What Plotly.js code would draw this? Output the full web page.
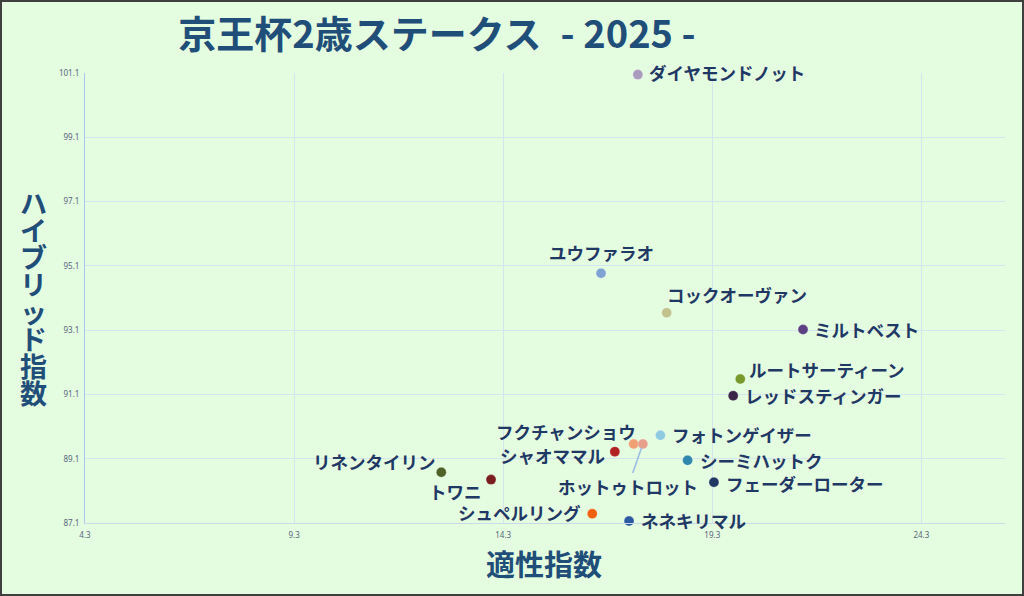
<!DOCTYPE html>
<html><head><meta charset="utf-8">
<script src="https://cdn.plot.ly/plotly-3.0.1.min.js"></script>
<style>
html,body{margin:0;padding:0;background:#e4fce0;}
#wrap{position:relative;width:1024px;height:596px;overflow:hidden;}
#chart{position:absolute;left:0;top:0;width:1024px;height:596px;}
#frame{position:absolute;left:0;top:0;width:1024px;height:596px;box-sizing:border-box;border:2px solid #3f3f3f;pointer-events:none;}
</style></head>
<body><div id="wrap"><div id="chart"></div><div id="frame"></div></div>
<script>
// ---- data ----
const horses = ["ダイヤモンドノット","ユウファラオ","コックオーヴァン","ミルトベスト","ルートサーティーン","レッドスティンガー","フォトンゲイザー","フクチャンショウ","ホットゥトロット","シャオママル","シーミハットク","フェーダーローター","リネンタイリン","トワニ","シュペルリング","ネネキリマル"];
const aptitude = [17.52,16.64,18.21,21.47,19.97,19.80,18.06,17.42,17.64,16.97,18.71,19.34,12.82,14.01,16.43,17.31];
const hybrid   = [101.05,94.87,93.64,93.12,91.58,91.06,89.83,89.56,89.56,89.32,89.05,88.37,88.68,88.45,87.39,87.16];
const xTicks = [4.3,9.3,14.3,19.3,24.3];
const yTicks = [87.1,89.1,91.1,93.1,95.1,97.1,99.1,101.1];
const chartTitle = "京王杯2歳ステークス\u2002- 2025 -";
const xTitle = "適性指数";
const yTitle = "ハイブリッド指数";

// ---- styles ----
const colors = ["#a99bbd","#7ea3d3","#c2c28c","#5b4184","#789a2c","#3b2548","#8ecbe0","#efa173","#e7a08c","#b12121","#2f87ae","#1f3864","#4f6228","#7a1d1d","#f0620f","#2b5aa0"];
// label placement: [xanchor, xshift, yshift] ; null => arrow label
const labelPlace = [
 ["left",9,2],["center",0,21],["left",-2,18],["left",9,0],["left",7,10],["left",10,0],
 ["left",10,1],["right",4,12],null,["right",-8,-4],["left",10,0],["left",10,-1],
 ["right",-3,11],["right",-7,-12],["right",-9,1],["left",10,1]
];
const labelFont = {family:"'Noto Sans CJK JP', sans-serif", size:17.5, color:"#1f3864", weight:"bold"};
const navy = "#1f4e79";

const trace = {
  type:"scatter", mode:"markers", x:aptitude, y:hybrid, text:horses,
  hoverinfo:"text", cliponaxis:false,
  marker:{size:10, color:colors, line:{width:0.8, color:"rgba(255,255,255,0.35)"}}
};

const annotations = [];
horses.forEach((h,i)=>{
  const p = labelPlace[i];
  if(p){
    annotations.push({xref:"x",yref:"y",x:aptitude[i],y:hybrid[i],text:h,showarrow:false,
      xanchor:p[0],yanchor:"middle",xshift:p[1],yshift:p[2],font:labelFont});
  } else {
    annotations.push({xref:"x",yref:"y",x:aptitude[i],y:hybrid[i],text:h,showarrow:true,
      axref:"pixel",ayref:"pixel",ax:-15,ay:43,arrowhead:0,arrowwidth:1.6,arrowcolor:"#9dbde6",
      standoff:4,font:labelFont});
  }
});
// x axis title
annotations.push({xref:"paper",yref:"paper",x:(544-85)/920,y:-(563-523)/449.4,text:xTitle,showarrow:false,
  xanchor:"center",yanchor:"middle",font:{family:"'Noto Sans CJK JP', sans-serif",size:29,color:navy,weight:"bold"}});
// y axis title (vertical, stacked characters)
yTitle.split("").forEach((ch,i)=>{
  const cy = 203 + i*27.1;
  annotations.push({xref:"paper",yref:"paper",x:(33-85)/920,y:(523-cy)/449.4,text:ch,showarrow:false,
    xanchor:"center",yanchor:"middle",font:{family:"'Noto Sans CJK JP', sans-serif",size:27,color:navy,weight:"bold"}});
});

const layout = {
  width:1024, height:596,
  paper_bgcolor:"#e4fce0", plot_bgcolor:"#e4fce0",
  margin:{l:85,r:19,t:73,b:73},
  showlegend:false,
  title:{text:chartTitle, xref:"container", yref:"container", x:437/1024, y:1-35/596,
    xanchor:"center", yanchor:"middle",
    font:{family:"'Noto Sans CJK JP', sans-serif", size:38, color:navy, weight:"bold"}},
  xaxis:{range:[4.3,26.3], tickvals:xTicks, ticktext:xTicks.map(v=>v.toFixed(1)),
    showgrid:true, gridcolor:"#d3e6f0", gridwidth:1, zeroline:false,
    showline:true, linecolor:"#c9dbe6", linewidth:1, ticks:"", ticklabelstandoff:4,
    tickfont:{family:"'Noto Sans', sans-serif", size:8, color:"#58677d"}},
  yaxis:{range:[87.1,101.1], tickvals:yTicks, ticktext:yTicks.map(v=>v.toFixed(1)),
    showgrid:true, gridcolor:"#d3e6f0", gridwidth:1, zeroline:false,
    showline:true, linecolor:"#a8c6ee", linewidth:1, ticks:"", ticklabelstandoff:3,
    tickfont:{family:"'Noto Sans', sans-serif", size:8, color:"#58677d"}},
  annotations:annotations,
  font:{family:"'Noto Sans CJK JP', sans-serif"}
};

Plotly.newPlot("chart",[trace],layout,{displayModeBar:false,staticPlot:true});
</script>
</body></html>
